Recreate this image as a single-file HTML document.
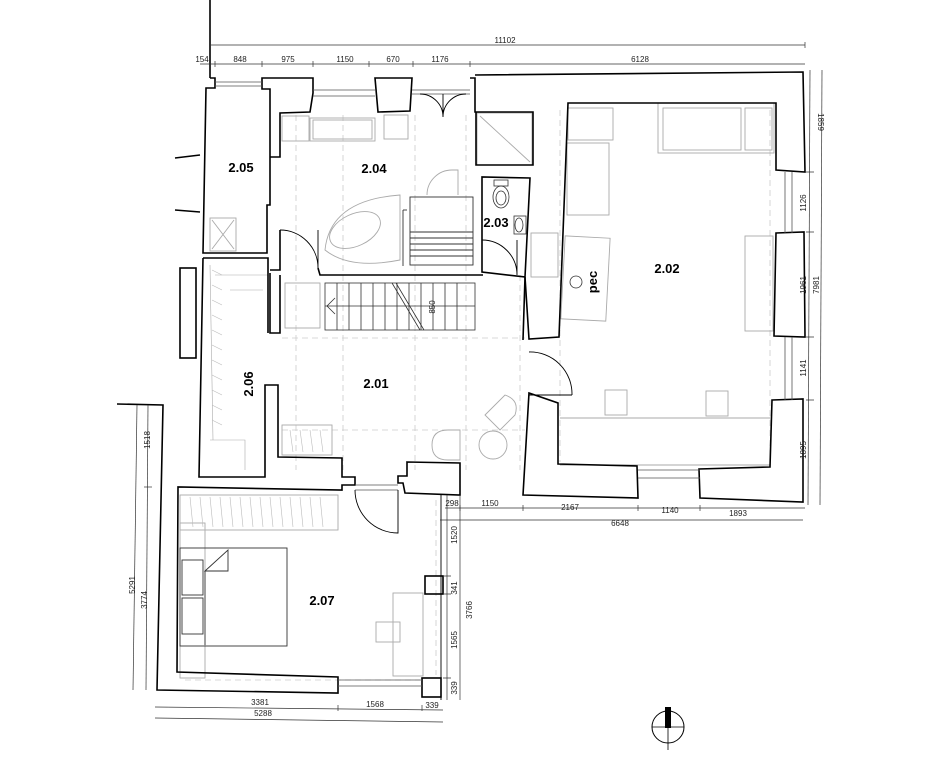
<!DOCTYPE html>
<html><head><meta charset="utf-8"><style>
html,body{margin:0;padding:0;background:#fff;width:932px;height:762px;overflow:hidden}
svg{display:block}
text{font-family:"Liberation Sans",sans-serif}
.d{font-size:8px;fill:#222}
.r{font-size:13px;font-weight:bold;fill:#000}
</style></head><body>
<svg width="932" height="762" viewBox="0 0 932 762" xmlns="http://www.w3.org/2000/svg">
<g stroke="#ccc" stroke-width="0.8" stroke-dasharray="6,4" fill="none">
<line x1="296" y1="115" x2="296" y2="470"/><line x1="343" y1="115" x2="343" y2="470"/>
<line x1="415" y1="115" x2="415" y2="470"/><line x1="466" y1="115" x2="466" y2="470"/>
<line x1="520" y1="275" x2="520" y2="470"/>
<line x1="282" y1="338" x2="525" y2="338"/><line x1="282" y1="430" x2="525" y2="430"/>
<line x1="560" y1="110" x2="560" y2="462"/><line x1="770" y1="110" x2="770" y2="462"/>
<line x1="185" y1="680" x2="420" y2="680"/><line x1="436" y1="500" x2="436" y2="675"/>
</g>
<g stroke="#aaa" stroke-width="0.9" fill="none">
<rect x="282" y="116" width="27" height="25"/><rect x="310" y="118" width="65" height="23"/><rect x="313" y="120" width="59" height="19"/>
<rect x="384" y="115" width="24" height="24"/>
<path d="M325,250 Q330,200 400,195 L400,260 Q350,270 325,250Z"/>
<ellipse cx="355" cy="230" rx="27" ry="16" transform="rotate(-25 355 230)"/>
<path d="M427,195 A25,25 0 0 1 452,170 L458,170 L458,195"/>
<rect x="477" y="113" width="55" height="52"/><line x1="480" y1="116" x2="530" y2="162"/>
<rect x="210" y="218" width="26" height="33"/><line x1="212" y1="220" x2="234" y2="249"/><line x1="234" y1="220" x2="212" y2="249"/>
<rect x="568" y="108" width="45" height="32"/><rect x="567" y="143" width="42" height="72"/>
<rect x="663" y="108" width="78" height="42"/><rect x="745" y="108" width="27" height="42"/><rect x="658" y="103" width="116" height="50"/>
<rect x="563" y="237" width="45" height="83" transform="rotate(3 585 278)"/>
<rect x="531" y="233" width="27" height="44"/>
<rect x="745" y="236" width="28" height="95"/>
<rect x="605" y="390" width="22" height="25"/><rect x="706" y="391" width="22" height="25"/>
<line x1="560" y1="418" x2="770" y2="418"/><line x1="560" y1="465" x2="770" y2="465"/>
<path d="M485,415 L505,395 Q520,400 515,415 L500,430Z"/>
<circle cx="493" cy="445" r="14"/><path d="M432,445 Q432,430 448,430 L460,430 L460,460 L448,460 Q432,460 432,445Z"/>
<rect x="282" y="425" width="50" height="30"/>
<g stroke-width="0.6"><path d="M210,265 L213,440 M215,275 L268,275 M210,440 L245,440 L245,470 M230,290 L263,290"/></g>
<rect x="180" y="495" width="158" height="35"/>
<rect x="393" y="593" width="30" height="83"/><rect x="376" y="622" width="24" height="20"/>
<rect x="180" y="523" width="25" height="155"/>
<rect x="285" y="283" width="35" height="45"/>
</g>
<g stroke="#bbb" stroke-width="0.6">
<path d="M212,270 l10,5 M212,285 l10,5 M212,300 l10,5 M212,315 l10,5 M212,330 l10,5 M212,345 l10,5 M212,360 l10,5 M212,375 l10,5 M212,390 l10,5 M212,405 l10,5 M212,420 l10,5"/>
<path d="M190,497 l3,30 M200,497 l3,30 M210,497 l3,30 M220,497 l3,30 M230,497 l3,30 M240,497 l3,30 M250,497 l3,30 M260,497 l3,30 M270,497 l3,30 M280,497 l3,30 M290,497 l3,30 M300,497 l3,30 M310,497 l3,30 M320,497 l3,30"/>
<path d="M290,430 l3,22 M300,430 l3,22 M310,430 l3,22 M320,430 l3,22"/>
</g>
<g stroke="#333" stroke-width="0.9" fill="none">
<rect x="180" y="548" width="107" height="98"/><rect x="182" y="560" width="21" height="35"/><rect x="182" y="598" width="21" height="36"/>
<path d="M205,571 L228,550 L228,571Z"/><line x1="205" y1="571" x2="205" y2="645"/>
</g>
<g stroke="#333" stroke-width="0.8" fill="none">
<rect x="325" y="283" width="150" height="47"/>
<path d="M337,283v47M349,283v47M361,283v47M373,283v47M385,283v47M397,283v47M409,283v47M421,283v47M433,283v47M445,283v47M457,283v47"/>
<path d="M392,283 L420,330 M396,283 L424,330"/>
<path d="M325,306 h150 M335,298 l-8,8 l8,8"/>
</g>
<g stroke="#333" stroke-width="0.9" fill="none">
<rect x="410" y="197" width="63" height="68"/>
<path d="M410,232h63M410,238h63M410,244h63M410,250h63M410,256h63"/>
<line x1="403" y1="210" x2="403" y2="266"/><line x1="403" y1="210" x2="407" y2="210"/>
</g>
<g stroke="#333" stroke-width="0.8" fill="none">
<rect x="494" y="180" width="14" height="6"/><ellipse cx="501" cy="197" rx="8" ry="11"/><ellipse cx="501" cy="198" rx="5" ry="7"/>
<rect x="514" y="216" width="12" height="18"/><ellipse cx="519" cy="225" rx="4" ry="7"/>
<circle cx="576" cy="282" r="6"/>
</g>
<g stroke="#000" stroke-width="1.6" fill="none" stroke-linejoin="miter">
<path d="M210,0 L210,78"/>
<path d="M210,78 L215,78 L215,88 L206,88 L203,253 L267,253 L267,205 L270,205 L270,89 L262,89 L262,78 L313,78 L313,93 L310,112 L280,113 L280,157 L270,157"/>
<path d="M280,230 L280,270 L270,270"/>
<path d="M375,78 L412,78 L410,111 L378,112Z"/>
<path d="M470,78 L475,78 L475,112 L533,112 L533,165 L476,165 L476,112"/>
<path d="M475,75 L803,72 L805,172 L776,170 L776,103 L568,103 L559,337 L529,339 L525,277 L482,272 L482,177 L530,178 L525,277"/>
<path d="M776,233 L804,232 L805,337 L774,336Z"/>
<path d="M772,400 L803,399 L803,502 L700,498 L699,469 L770,467Z"/>
<path d="M637,466 L638,498 L523,495 L529,393 L558,403 L558,464Z"/>
<path d="M318,268 L320,275 L483,275"/>
<path d="M270,273 L270,333 L280,333 L280,275 M525,277 L523,340"/>
<path d="M203,258 L268,258 L268,333"/>
<path d="M203,258 L199,477 L265,477 L265,385 L278,385 L278,457 L342,458 L342,477 L355,477 L355,485 L342,485 L342,490 L178,487 L177,672 L338,677 L338,693 L157,690 L163,405 L117,404"/>
<path d="M407,462 L460,463 L460,495 L405,493 L403,483 L398,483 L398,476 L407,476Z"/>
<path d="M175,158 L200,155 M175,210 L200,212"/>
<rect x="180" y="268" width="16" height="90"/>
<rect x="425" y="576" width="18" height="18"/><rect x="422" y="678" width="19" height="19"/>
</g>
<g stroke="#000" stroke-width="0.9" fill="none"><path d="M441,495 L441,678 M441,697 L441,700"/></g>
<g stroke="#555" stroke-width="0.8" fill="none">
<path d="M313,90h62M313,96h62M412,90h58M412,94h58"/>
<path d="M785,172v61M792,172v61M785,337v63M792,337v63M638,470h62M638,478h62M338,680h84M338,686h84"/>
<path d="M355,485h43M355,490h43M215,82h47M215,86h47"/>
</g>
<g stroke="#000" stroke-width="0.9" fill="none">
<path d="M280,230 A38,38 0 0 1 318,268 M318,230 L318,268" />
<path d="M482,240 A35,35 0 0 1 517,275 M517,240 L517,275"/>
<path d="M529,352 A42,42 0 0 1 572,395 M572,395 L529,395"/>
<path d="M355,490 A43,43 0 0 0 398,533 L398,490"/>
<path d="M420,94 A23,23 0 0 1 443,117 L443,94 M466,94 A23,23 0 0 0 443,117"/>
</g>
<g stroke="#333" stroke-width="0.7" fill="none">
<line x1="210" y1="45" x2="805" y2="45"/>
<line x1="200" y1="64" x2="805" y2="64"/>
<path d="M215,61v6M262,61v6M313,61v6M369,61v6M413,61v6M470,61v6M805,42v6"/>
<line x1="810" y1="70" x2="808" y2="505"/><line x1="822" y1="70" x2="820" y2="505"/>
<path d="M806,172h8M806,232h8M806,337h8M806,400h8"/>
<line x1="445" y1="508" x2="805" y2="508"/><line x1="440" y1="520" x2="803" y2="520"/>
<path d="M460,505v6M523,505v6M638,505v6M700,505v6"/>
<line x1="447" y1="495" x2="447" y2="700"/><line x1="460" y1="495" x2="460" y2="700"/>
<path d="M443,576h8M443,594h8M443,678h8"/>
<line x1="137" y1="405" x2="133" y2="690"/><line x1="148" y1="405" x2="146" y2="690"/><path d="M144,487h8"/>
<line x1="155" y1="707" x2="443" y2="710"/><line x1="155" y1="718" x2="443" y2="722"/>
<path d="M338,705v6M422,705v6"/>
</g>
<g class="d">
<text x="505" y="43" text-anchor="middle">11102</text>
<text x="202" y="62" text-anchor="middle">154</text><text x="240" y="62" text-anchor="middle">848</text>
<text x="288" y="62" text-anchor="middle">975</text><text x="345" y="62" text-anchor="middle">1150</text>
<text x="393" y="62" text-anchor="middle">670</text><text x="440" y="62" text-anchor="middle">1176</text>
<text x="640" y="62" text-anchor="middle">6128</text>
<text x="452" y="506" text-anchor="middle">298</text><text x="490" y="506" text-anchor="middle">1150</text>
<text x="570" y="510" text-anchor="middle">2167</text><text x="670" y="513" text-anchor="middle">1140</text>
<text x="738" y="516" text-anchor="middle">1893</text><text x="620" y="526" text-anchor="middle">6648</text>
<text x="260" y="705" text-anchor="middle">3381</text><text x="375" y="707" text-anchor="middle">1568</text>
<text x="432" y="708" text-anchor="middle">339</text><text x="263" y="716" text-anchor="middle">5288</text>
<text transform="translate(818,122) rotate(90)" text-anchor="middle">1859</text>
<text transform="translate(806,203) rotate(-90)" text-anchor="middle">1126</text>
<text transform="translate(806,285) rotate(-90)" text-anchor="middle">1961</text>
<text transform="translate(819,285) rotate(-90)" text-anchor="middle">7981</text>
<text transform="translate(806,368) rotate(-90)" text-anchor="middle">1141</text>
<text transform="translate(806,450) rotate(-90)" text-anchor="middle">1895</text>
<text transform="translate(457,535) rotate(-90)" text-anchor="middle">1520</text>
<text transform="translate(457,588) rotate(-90)" text-anchor="middle">341</text>
<text transform="translate(457,640) rotate(-90)" text-anchor="middle">1565</text>
<text transform="translate(457,688) rotate(-90)" text-anchor="middle">339</text>
<text transform="translate(472,610) rotate(-90)" text-anchor="middle">3766</text>
<text transform="translate(135,585) rotate(-90)" text-anchor="middle">5291</text>
<text transform="translate(150,440) rotate(-90)" text-anchor="middle">1518</text>
<text transform="translate(147,600) rotate(-90)" text-anchor="middle">3774</text>
<text transform="translate(435,307) rotate(-90)" text-anchor="middle">850</text>
</g>
<g class="r">
<text x="241" y="172" text-anchor="middle">2.05</text>
<text x="374" y="173" text-anchor="middle">2.04</text>
<text x="496" y="227" text-anchor="middle">2.03</text>
<text x="667" y="273" text-anchor="middle">2.02</text>
<text x="376" y="388" text-anchor="middle">2.01</text>
<text x="322" y="605" text-anchor="middle">2.07</text>
<text transform="translate(253,384) rotate(-90)" text-anchor="middle">2.06</text>
<text transform="translate(597,282) rotate(-90)" text-anchor="middle">pec</text>
</g>
<circle cx="668" cy="727" r="16" fill="none" stroke="#000" stroke-width="1"/>
<line x1="652" y1="727" x2="684" y2="727" stroke="#000" stroke-width="0.8"/>
<line x1="668" y1="727" x2="668" y2="750" stroke="#000" stroke-width="0.8"/>
<rect x="665" y="707" width="6" height="21" fill="#000"/>
</svg>
</body></html>
